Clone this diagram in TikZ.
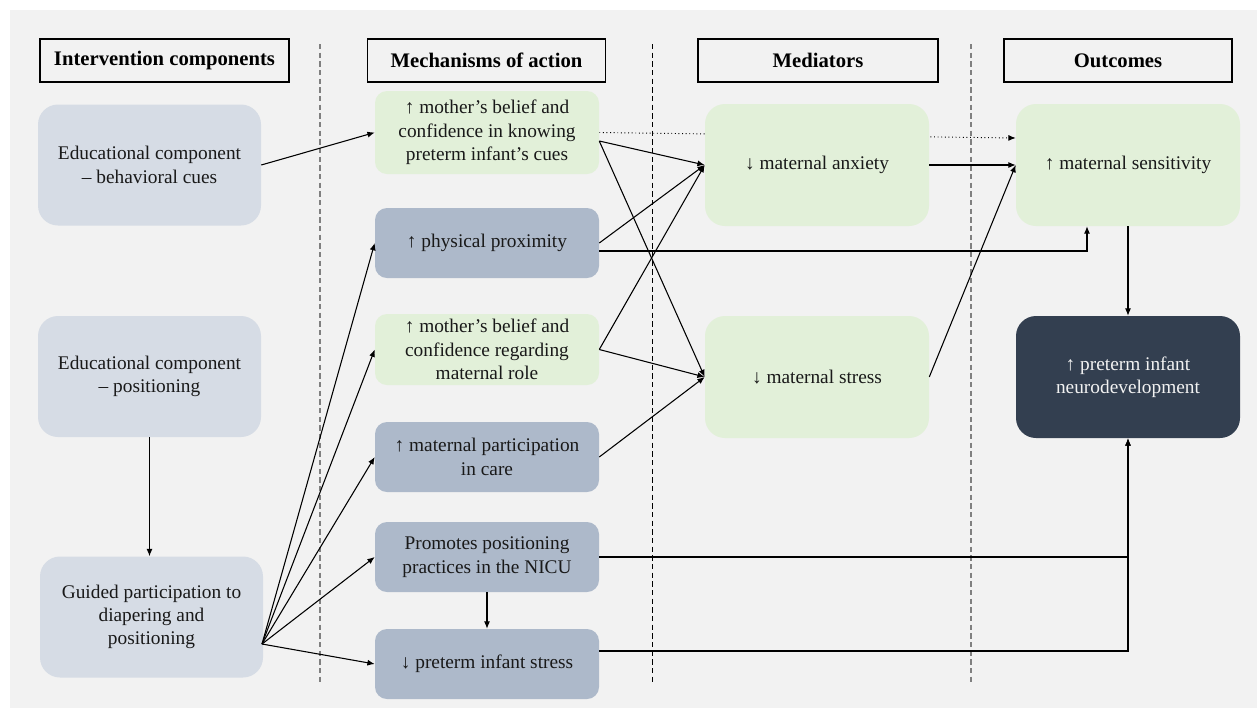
\documentclass[tikz,border=0pt]{standalone}
\usepackage{fontspec}
\setmainfont{Liberation Serif}
\newfontfamily\tnr{Liberation Serif}
\usetikzlibrary{arrows.meta,calc}
\definecolor{bgc}{HTML}{F2F2F2}
\definecolor{lblue}{HTML}{D6DCE5}
\definecolor{mblue}{HTML}{ADB9CA}
\definecolor{lgreen}{HTML}{E2F0D9}
\definecolor{dnavy}{HTML}{333F50}
\definecolor{dashgray}{HTML}{808080}
\pgfdeclarelayer{back}
\pgfdeclarelayer{mid}
\pgfsetlayers{back,mid,main}
\begin{document}
\begin{tikzpicture}[x=0.75pt,y=-0.75pt,
  font=\tnr\fontsize{14.5}{17.5}\selectfont,
  box/.style={align=center, inner sep=2pt, text=black!90},
  lbox/.style={box, fill=lblue, rounded corners=15pt, minimum width=167.25pt, minimum height=90.75pt},
  mbox/.style={box, rounded corners=9pt, minimum width=168pt, minimum height=52.5pt},
  mgreen/.style={mbox, fill=lgreen},
  mgray/.style={mbox, fill=mblue},
  obox/.style={box, rounded corners=15pt, minimum width=168pt, minimum height=91.5pt},
  hdr/.style={draw=black, line width=0.9pt, fill=bgc, minimum height=32.25pt, inner sep=2pt, font=\tnr\fontsize{15.5}{18}\selectfont\bfseries},
  conn/.style={-{Latex[length=5.5pt,width=4.5pt]}, line width=0.8pt},
  sep/.style={dashed, dash pattern=on 4pt off 2.5pt},
]
\useasboundingbox (0,0) rectangle (1257,708);
\begin{pgfonlayer}{back}
\fill[bgc] (10,10) rectangle (1257,708);
\end{pgfonlayer}

% column separators
\draw[sep, dashgray, line width=1pt] (320,44) -- (320,682);
\draw[sep, black, line width=0.6pt] (652,44) -- (652,682);
\draw[sep, dashgray, line width=1pt] (971,44) -- (971,682);

% headers
\node[hdr, minimum width=186.75pt] (h1) at (164.5,60.5) {Intervention components};
\node[hdr, minimum width=178.5pt] (h2) at (486.5,60.5) {Mechanisms of action};
\node[hdr, minimum width=180pt] (h3) at (818,60.5) {Mediators};
\node[hdr, minimum width=171pt] (h4) at (1118,60.5) {Outcomes};

% intervention components
\node[lbox] (behav) at (149.5,165) {Educational component\\– behavioral cues};
\node[lbox] (posit) at (149.5,376.5) {Educational component\\– positioning};
\node[lbox] (guided) at (151.5,617) {Guided participation to\\diapering and\\positioning};

% mechanisms
\node[mgreen, minimum height=62.25pt] (m1) at (487,132.5) {↑ mother’s belief and\\confidence in knowing\\preterm infant’s cues};
\node[mgray] (m2) at (487,243) {↑ physical proximity};
\node[mgreen, minimum height=53.25pt] (m3) at (487,349.5) {↑ mother’s belief and\\confidence regarding\\maternal role};
\node[mgray] (m4) at (487,457) {↑ maternal participation\\in care};
\node[mgray] (m5) at (487,557) {Promotes positioning\\practices in the NICU};
\node[mgray] (m6) at (487,664) {↓ preterm infant stress};

% mediators
\node[obox, fill=lgreen] (anx) at (817,165) {↓ maternal anxiety};
\node[obox, fill=lgreen] (str) at (817,377) {↓ maternal stress};

% outcomes
\node[obox, fill=lgreen] (sens) at (1128,165) {↑ maternal sensitivity};
\node[obox, fill=dnavy, text=white!95!black] (neuro) at (1128,377) {↑ preterm infant\\neurodevelopment};

% connectors
\coordinate (gout) at (262,644);
\draw[conn] (behav.east) -- (m1.west);
\draw[conn] (posit.south) -- (posit.south |- guided.north);
\draw[conn] (gout) -- (m2.west);
\draw[conn] (gout) -- (m3.west);
\draw[conn] (gout) -- (m4.west);
\draw[conn] (gout) -- (m5.west);
\draw[conn] (gout) -- (m6.west);
\draw[conn] (m5.south) -- (m6.north);

\begin{pgfonlayer}{mid}
\draw[-{Latex[length=5.5pt,width=4.5pt]}, line width=0.7pt, dotted] (m1.east) -- ($(sens.west)+(0,-27)$);
\end{pgfonlayer}

\draw[conn] ($(m1.east)+(0,8.5)$) -- (anx.west);
\draw[conn] ($(m1.east)+(0,8.5)$) -- (str.west);
\draw[conn] (m2.east) -- (anx.west);
\draw[conn] ($(m2.east)+(0,8)$) -| ($(sens.south)+(-41,0)$);
\draw[conn] (m3.east) -- (anx.west);
\draw[conn] (m3.east) -- (str.west);
\draw[conn] (m4.east) -- (str.west);
\draw[conn] (anx.east) -- (sens.west);
\draw[conn] (str.east) -- (sens.west);
\draw[conn] (sens.south) -- (neuro.north);
\draw[conn] (m5.east) -| (neuro.south);
\draw[conn] ($(m6.east)+(0,-13)$) -| (neuro.south);
\end{tikzpicture}
\end{document}
